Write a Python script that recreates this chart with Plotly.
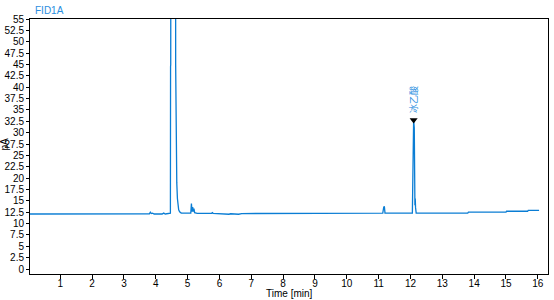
import plotly.graph_objects as go

# Chromatogram trace (time in min, signal in pA)
time_min = [0.05, 3.50, 3.55, 3.80, 3.83, 3.86, 3.90, 3.95, 4.20, 4.25, 4.30, 4.40,
            4.46, 4.465, 4.47, 4.48, 4.49, 4.61, 4.62, 4.625, 4.63, 4.64, 4.66, 4.68,
            4.70, 4.72, 4.75, 4.80, 5.10, 5.12, 5.14, 5.16, 5.18, 5.20, 5.22, 5.30,
            5.75, 5.78, 5.80, 6.00, 6.05, 6.30, 6.35, 6.60, 6.70, 8.30, 8.35, 8.40,
            11.13, 11.16, 11.17, 11.18, 11.20, 12.06, 12.07, 12.08, 12.10, 12.12,
            12.13, 12.14, 12.15, 12.16, 12.18, 13.80, 13.82, 15.00, 15.02, 15.68,
            15.70, 16.04]
signal_pa = [12.1, 12.1, 12.15, 12.15, 12.5, 12.2, 12.3, 12.1, 12.1, 12.3, 12.1, 12.2,
             12.3, 44.5, 45.0, 120.0, 200.0, 200.0, 120.0, 45.0, 38.5, 27.5, 19.0, 15.5,
             13.8, 13.0, 12.6, 12.3, 12.3, 14.4, 12.6, 13.6, 12.6, 13.3, 12.4, 12.25,
             12.25, 12.4, 12.25, 12.2, 12.05, 12.05, 12.15, 12.05, 12.2, 12.2, 12.3, 12.2,
             12.3, 13.6, 12.9, 13.8, 12.3, 12.3, 22.0, 24.0, 32.8, 31.0,
             15.0, 14.0, 15.5, 13.5, 12.3, 12.3, 12.5, 12.5, 12.7, 12.7,
             12.9, 12.9]

# Identified peak
peak_name = ["冰乙酸"]
peak_time = [12.10]
peak_height = [32.8]

x_ticks = list(range(1, 17))
y_ticks = [i * 2.5 for i in range(0, 23)]
y_tick_text = [("%g" % v) for v in y_ticks]

line_color = "#0a7dd4"
label_blue = "#2a8ee0"

fig = go.Figure()
fig.add_trace(go.Scatter(x=time_min, y=signal_pa, mode="lines",
                         line=dict(color=line_color, width=1.3),
                         hoverinfo="skip", showlegend=False))
fig.add_trace(go.Scatter(x=peak_time, y=peak_height, mode="markers",
                         marker=dict(symbol="triangle-down", size=7, color="black"),
                         hoverinfo="skip", showlegend=False, cliponaxis=False))
for n, t, h in zip(peak_name, peak_time, peak_height):
    fig.add_annotation(x=t, y=h, text=n, textangle=-90, showarrow=False,
                       yanchor="bottom", yshift=5, xshift=0,
                       font=dict(family="Noto Sans CJK SC", size=9, color=label_blue))

fig.add_annotation(text="FID1A", xref="paper", yref="paper", x=0, y=1,
                   xanchor="left", yanchor="bottom", xshift=3, yshift=1, showarrow=False,
                   font=dict(family="Liberation Sans", size=10, color=label_blue))
# axis titles
fig.add_annotation(text="Time [min]", xref="paper", yref="paper", x=0.5, y=0,
                   xanchor="center", yanchor="top", yshift=-12, showarrow=False,
                   font=dict(family="Liberation Sans", size=10, color="black"))
fig.add_annotation(text="pA", xref="paper", yref="paper", x=0, y=0.51, textangle=-90,
                   xanchor="center", yanchor="middle", xshift=-25.5, showarrow=False,
                   font=dict(family="Liberation Sans", size=10, color="black"))

fig.update_layout(
    width=554, height=300,
    margin=dict(l=30, r=6, t=19, b=26),
    paper_bgcolor="white", plot_bgcolor="white",
    font=dict(family="Liberation Sans", size=10, color="black"),
)
fig.update_xaxes(range=[0.05, 16.32], tickvals=x_ticks, ticktext=[str(v) for v in x_ticks],
                 showgrid=False, zeroline=False, showline=True, linecolor="black",
                 linewidth=1, mirror=True, ticks="outside", ticklen=4, tickcolor="black",
                 ticklabelstandoff=-4, automargin=False, tickfont=dict(size=10))
fig.update_yaxes(range=[-1.1, 55], tickvals=y_ticks, ticktext=y_tick_text,
                 showgrid=False, zeroline=False, showline=True, linecolor="black",
                 linewidth=1, mirror=True, ticks="outside", ticklen=3, tickcolor="black",
                 automargin=False, tickfont=dict(size=10))

fig.write_html("out.html")
